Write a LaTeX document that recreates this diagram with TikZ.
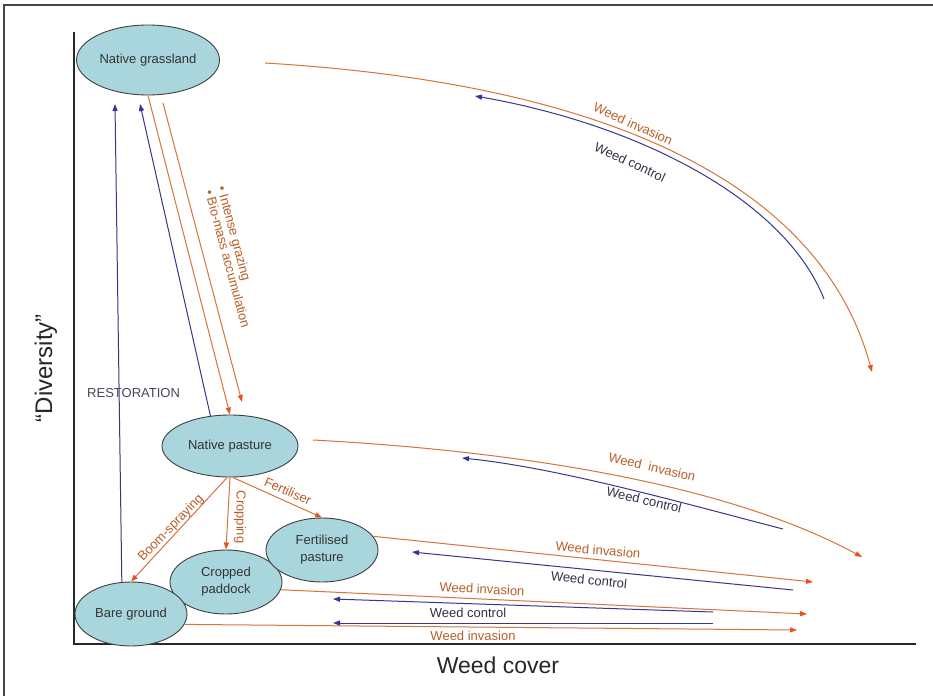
\documentclass[tikz,border=0pt]{standalone}
\usepackage{fontspec}
\setmainfont{Liberation Sans}
\usetikzlibrary{shapes.geometric,arrows.meta}
\definecolor{fillc}{RGB}{168,214,220}
\definecolor{orangeline}{RGB}{215,115,60}
\definecolor{tipc}{RGB}{235,80,30}
\definecolor{blueline}{RGB}{55,55,140}
\definecolor{bluetip}{RGB}{55,50,150}
\definecolor{orangetext}{RGB}{185,95,40}
\definecolor{darktext}{RGB}{50,50,70}
\definecolor{axisc}{RGB}{40,40,40}
\definecolor{framec}{RGB}{70,70,70}
\begin{document}
\begin{tikzpicture}[x=1pt,y=-1pt,
  state/.style={ellipse, draw=black!75, line width=0.9pt, fill=fillc, inner sep=0pt,
    font=\fontsize{13}{17}\selectfont, align=center, text=black!80},
  inv/.style={draw=orangeline, line width=1pt, -{Triangle[length=7pt,width=5pt,color=tipc]}},
  ctl/.style={draw=blueline, line width=1pt, -{Triangle[length=7pt,width=5pt,color=bluetip]}},
  invlab/.style={text=orangetext, font=\fontsize{13}{13}\selectfont, inner sep=0pt},
  ctllab/.style={text=darktext, font=\fontsize{13}{13}\selectfont, inner sep=0pt}]
\useasboundingbox (0,0) rectangle (933,696);
\fill[white] (0,0) rectangle (933,696);
% frame and axes
\draw[framec, line width=1.5pt] (4,696) -- (4,5) -- (933,5);
\draw[axisc, line width=1.5pt] (74,32) -- (74,644) -- (916,644);
\node[font=\fontsize{23}{23}\selectfont, text=black!85] (xl) at (498,665) {Weed cover};
\node[font=\fontsize{24}{24}\selectfont, text=black!85, rotate=90] (yl) at (46,368) {“Diversity”};

% states
\node[state, minimum width=143pt, minimum height=70pt] (ng) at (148,60) {Native grassland};
\node[state, minimum width=136pt, minimum height=62pt] (np) at (230,446) {Native pasture};
\node[state, minimum width=112pt, minimum height=64pt] (cp) at (226,582) {Cropped\\paddock};
\node[state, minimum width=112pt, minimum height=64pt] (fp) at (322,550) {Fertilised\\pasture};
\node[state, minimum width=112pt, minimum height=64pt] (bg) at (131,614) {Bare ground};

% free ends
\coordinate (rTip) at (115,104);
\coordinate (bTip) at (140,104);
\coordinate (g2s) at (163,103);
\coordinate (g2e) at (242,402);
\coordinate (ngInvS) at (265,63);
\coordinate (ngInvE) at (872,372);
\coordinate (ngCtlS) at (824,299);
\coordinate (ngCtlE) at (475,96);
\coordinate (npInvS) at (313,440);
\coordinate (npInvE) at (862,557);
\coordinate (npCtlS) at (783,529);
\coordinate (npCtlE) at (462,458);
\coordinate (fpInvE) at (813,582);
\coordinate (fpCtlS) at (793,590);
\coordinate (fpCtlE) at (412,552);
\coordinate (cpInvE) at (807,614);
\coordinate (cpCtlS) at (713,612);
\coordinate (cpCtlE) at (333,599);
\coordinate (bgInvE) at (797,630);
\coordinate (bgCtlS) at (713,623);
\coordinate (bgCtlE) at (333,623);

% restoration and recovery
\draw[ctl] (bg.106) -- (rTip);
\node[ctllab, anchor=west, text=darktext!90] (rl) at (87,393) {RESTORATION};
\draw[ctl] (np.123) -- (bTip);

% degradation grassland -> pasture
\draw[inv] (ng.south) -- (np.north);
\draw[inv] (g2s) -- (g2e);
\node[invlab, rotate=-75, align=left, font=\fontsize{13}{13}\selectfont] (gl) at (234,257)
  {\textbullet\ Intense grazing\\\textbullet\ Bio-mass accumulation};

% native grassland weeds
\draw[inv] (ngInvS) .. controls (600,83) and (820,180) .. (ngInvE);
\node[invlab, rotate=-24] (l1) at (633,124) {Weed invasion};
\draw[ctl] (ngCtlS) .. controls (785,200) and (640,125) .. (ngCtlE);
\node[ctllab, rotate=-25] (l2) at (630,162) {Weed control};

% native pasture weeds
\draw[inv] (npInvS) .. controls (500,450) and (720,480) .. (npInvE);
\node[invlab, rotate=-13] (l3) at (652,467) {Weed\ \ invasion};
\draw[ctl] (npCtlS) .. controls (690,505) and (560,468) .. (npCtlE);
\node[ctllab, rotate=-13] (l4) at (644,500) {Weed control};

% fertilised pasture weeds
\draw[inv] (fp.15) -- (fpInvE);
\node[invlab, rotate=-5] (l5) at (598,550) {Weed invasion};
\draw[ctl] (fpCtlS) -- (fpCtlE);
\node[ctllab, rotate=-6] (l6) at (589,580) {Weed control};

% cropped paddock weeds
\draw[inv] (cp.-8) -- (cpInvE);
\node[invlab, rotate=-3] (l7) at (482,589) {Weed invasion};
\draw[ctl] (cpCtlS) -- (cpCtlE);
\node[ctllab] (l8) at (468,613) {Weed control};

% bare ground weeds
\draw[inv] (bg.-11) -- (bgInvE);
\draw[ctl] (bgCtlS) -- (bgCtlE);
\node[invlab] (l9) at (473,636) {Weed invasion};

% native pasture transitions
\draw[inv] (np.265) -- (bg.north);
\node[invlab, rotate=46] (lb) at (171,528) {Boom-spraying};
\draw[inv] (np.south) -- (cp.north);
\node[invlab, rotate=-90] (lc) at (240,517) {Cropping};
\draw[inv] (np.275) -- (fp.north);
\node[invlab, rotate=-24] (lf) at (288,491) {Fertiliser};
\end{tikzpicture}
\end{document}
